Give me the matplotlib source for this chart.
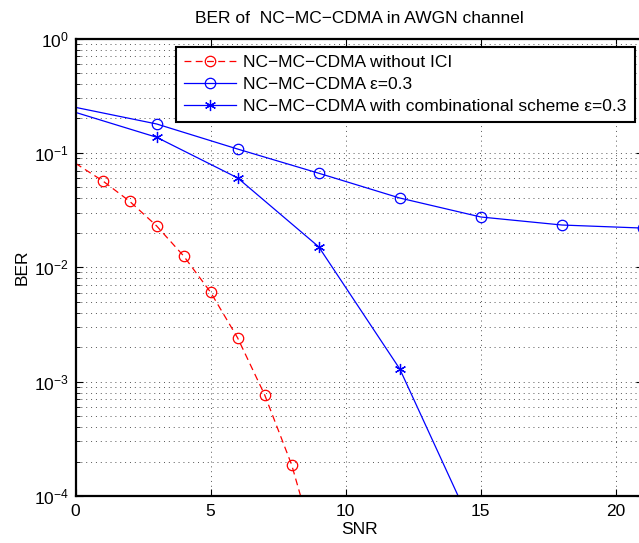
import matplotlib
matplotlib.use("Agg")
import matplotlib.pyplot as plt
from matplotlib.ticker import LogLocator, FixedLocator, NullFormatter
import numpy as np

plt.rcParams['font.family'] = ['Liberation Sans', 'DejaVu Sans']
plt.rcParams['mathtext.fontset'] = 'custom'
plt.rcParams['mathtext.rm'] = 'Liberation Sans'
plt.rcParams['mathtext.it'] = 'Liberation Sans:italic'

# SNR points and BER values for each scheme
snr_no_ici = [0, 1, 2, 3, 4, 5, 6, 7, 8, 9]
ber_no_ici = [0.081, 0.0571, 0.0378, 0.0230, 0.01256, 0.00604, 0.00241, 7.66e-4, 1.87e-4, 2.8e-5]

snr_ici = [0, 3, 6, 9, 12, 15, 18, 21]
ber_ici = [0.25, 0.179, 0.108, 0.0664, 0.0403, 0.0275, 0.0234, 0.022]

snr_comb = [0, 3, 6, 9, 12, 15]
ber_comb = [0.226, 0.137, 0.0604, 0.0151, 0.00129, 3.7e-5]

labels = [
    'NC\u2212MC\u2212CDMA without ICI',
    'NC\u2212MC\u2212CDMA \u03b5=0.3',
    'NC\u2212MC\u2212CDMA with combinational scheme \u03b5=0.3',
]
title = 'BER of  NC\u2212MC\u2212CDMA in AWGN channel'

W, H = 639, 543
fig = plt.figure(figsize=(W / 100, H / 100), dpi=100)
left, right, top, bottom = 75.5, 643.0, 38.5, 496.0
ax = fig.add_axes([left / W, 1 - bottom / H, (right - left) / W, (bottom - top) / H])

asterisk = (6, 2, 0)
ax.semilogy(snr_no_ici, ber_no_ici, color='red', lw=0.9, linestyle=(0, (5.5, 3.5)),
            marker='o', mfc='none', mec='red', ms=7.5, mew=0.9,
            markevery=slice(1, None), label=labels[0])
ax.semilogy(snr_ici, ber_ici, color='blue', lw=0.9,
            marker='o', mfc='none', mec='blue', ms=7.5, mew=0.9,
            markevery=slice(1, None), label=labels[1])
ax.semilogy(snr_comb, ber_comb, color='blue', lw=0.9,
            marker=asterisk, mec='blue', ms=8, mew=0.9,
            markevery=slice(1, None), label=labels[2])

ax.set_xlim(0, 21)
ax.set_ylim(1e-4, 1)
ax.xaxis.set_major_locator(FixedLocator([0, 5, 10, 15, 20]))
ax.yaxis.set_major_locator(LogLocator(base=10, numticks=10))
ax.yaxis.set_minor_locator(LogLocator(base=10, subs=np.arange(2, 10), numticks=10))
ax.yaxis.set_minor_formatter(NullFormatter())

ax.tick_params(which='both', direction='in', top=True, right=True, labelsize=12.5)
ax.tick_params(which='major', length=5, width=0.8)
ax.tick_params(which='minor', length=3, width=0.6)
ax.tick_params(axis='y', pad=5)
ax.tick_params(axis='x', pad=6)

grid_style = dict(color='#555555', linestyle=(0, (1, 4)), linewidth=0.7)
ax.grid(True, which='major', axis='both', **grid_style)
ax.grid(True, which='minor', axis='y', **grid_style)

for s in ax.spines.values():
    s.set_linewidth(1.6)

ax.set_title(title, fontsize=12.5, pad=11)
ax.set_xlabel('SNR', fontsize=12.5, labelpad=2)
ax.set_ylabel('BER', fontsize=12.5, labelpad=3)

leg = ax.legend(loc='upper left', bbox_to_anchor=((175.7 - left) / (right - left), (bottom - 46.7) / (bottom - top)),
                borderaxespad=0, fontsize=12.5, fancybox=False, framealpha=1,
                edgecolor='black', handlelength=3.0, handletextpad=0.45,
                borderpad=0.45, labelspacing=0.41)
leg.get_frame().set_linewidth(1.5)

fig.savefig('out.png', dpi=100)
